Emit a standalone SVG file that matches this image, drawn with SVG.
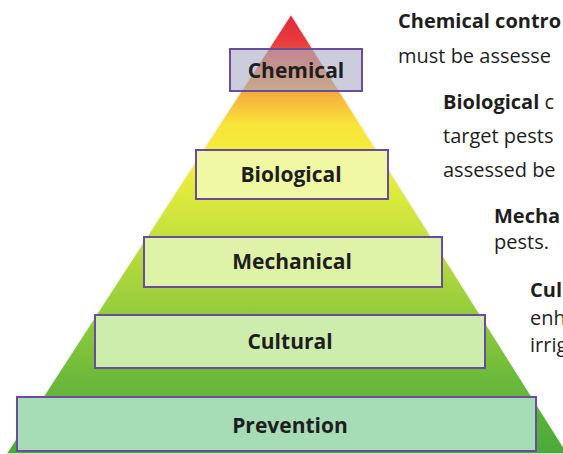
<svg xmlns="http://www.w3.org/2000/svg" width="563" height="454" viewBox="0 0 563 454">
<defs>
<linearGradient id="pg" x1="0" y1="14" x2="0" y2="454" gradientUnits="userSpaceOnUse">
<stop offset="0" stop-color="#e5283a"/>
<stop offset="0.06" stop-color="#e83a3c"/>
<stop offset="0.12" stop-color="#f0703e"/>
<stop offset="0.18" stop-color="#f6ac3c"/>
<stop offset="0.25" stop-color="#f8e43a"/>
<stop offset="0.33" stop-color="#f2f03c"/>
<stop offset="0.47" stop-color="#cde43e"/>
<stop offset="0.65" stop-color="#9ccf3c"/>
<stop offset="0.83" stop-color="#6cb93b"/>
<stop offset="1" stop-color="#4aa93a"/>
</linearGradient>
<style>
.box{stroke:#6a4c9c;stroke-width:2}
.lbl{font-family:"Open Sans","Liberation Sans",sans-serif;font-weight:700;font-size:21px;fill:#1e1e1e;text-anchor:middle}
.side{font-family:"Open Sans","Liberation Sans",sans-serif;font-size:20px;fill:#1e1e1e}
.b{font-weight:700}
</style>
</defs>
<rect width="563" height="454" fill="#ffffff"/>
<polygon id="pyramid" points="291,14 6,454 568,454" fill="url(#pg)" stroke="#f4f4f4" stroke-width="1.5"/>
<g id="chemical">
<rect class="box" x="230" y="49" width="132" height="42" fill="#a8acc4" fill-opacity="0.6"/>
<text class="lbl" x="296" y="78">Chemical</text>
</g>
<g id="biological">
<rect class="box" x="196" y="150" width="192" height="49" fill="#f1f8a4"/>
<text class="lbl" x="291" y="182">Biological</text>
</g>
<g id="mechanical">
<rect class="box" x="144" y="237" width="298" height="50" fill="#def3a8"/>
<text class="lbl" x="292" y="269">Mechanical</text>
</g>
<g id="cultural">
<rect class="box" x="95" y="315" width="390" height="53" fill="#ccedac"/>
<text class="lbl" x="290" y="349">Cultural</text>
</g>
<g id="prevention">
<rect class="box" x="17" y="397" width="519" height="54" fill="#a6dcb6"/>
<text class="lbl" x="290" y="433">Prevention</text>
</g>
<g id="connectors"></g>
<g id="descriptions">
<text class="side b" x="398" y="28">Chemical contro</text>
<text class="side" x="398" y="63">must be assesse</text>
<text class="side" x="443" y="109"><tspan class="b">Biological</tspan> c</text>
<text class="side" x="443" y="143">target pests</text>
<text class="side" x="443" y="177">assessed be</text>
<text class="side b" x="494" y="223">Mecha</text>
<text class="side" x="494" y="249">pests.</text>
<text class="side b" x="530" y="297">Cul</text>
<text class="side" x="530" y="325">enh</text>
<text class="side" x="530" y="352">irrig</text>
</g>
</svg>
